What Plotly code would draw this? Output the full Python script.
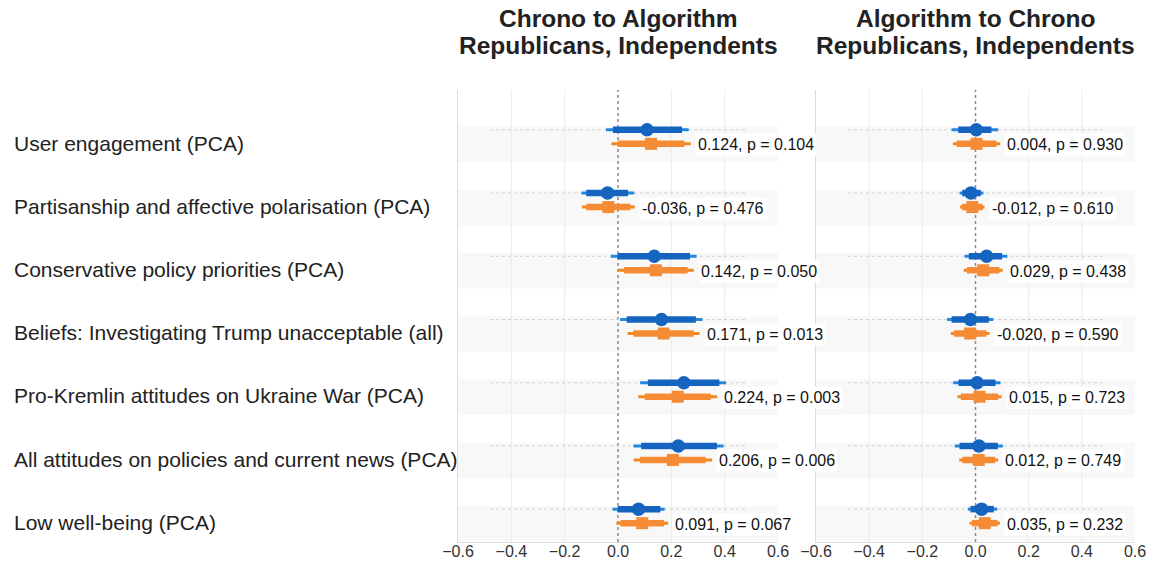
import plotly.graph_objects as go

categories = [
    "User engagement (PCA)",
    "Partisanship and affective polarisation (PCA)",
    "Conservative policy priorities (PCA)",
    "Beliefs: Investigating Trump unacceptable (all)",
    "Pro-Kremlin attitudes on Ukraine War (PCA)",
    "All attitudes on policies and current news (PCA)",
    "Low well-being (PCA)",
]
titles = [["Chrono to Algorithm", "Republicans, Independents"],
          ["Algorithm to Chrono", "Republicans, Independents"]]
tick_vals = [-0.6, -0.4, -0.2, 0.0, 0.2, 0.4, 0.6]
tick_text = ["\u22120.6", "\u22120.4", "\u22120.2", "0.0", "0.2", "0.4", "0.6"]

# Left panel: Chrono to Algorithm
L_blue_est = [0.109, -0.039, 0.136, 0.163, 0.247, 0.226, 0.077]
L_blue_lo95 = [-0.045, -0.137, -0.027, 0.008, 0.083, 0.058, -0.020]
L_blue_hi95 = [0.265, 0.061, 0.295, 0.317, 0.405, 0.396, 0.175]
L_blue_lo90 = [-0.019, -0.119, -0.001, 0.033, 0.112, 0.087, -0.001]
L_blue_hi90 = [0.240, 0.038, 0.270, 0.292, 0.380, 0.371, 0.159]
L_or_est = [0.124, -0.036, 0.142, 0.171, 0.224, 0.206, 0.091]
L_or_lo95 = [-0.025, -0.135, 0.000, 0.036, 0.076, 0.059, -0.006]
L_or_hi95 = [0.273, 0.063, 0.284, 0.306, 0.372, 0.353, 0.188]
L_or_lo90 = [-0.001, -0.119, 0.023, 0.058, 0.100, 0.083, 0.009]
L_or_hi90 = [0.249, 0.047, 0.261, 0.284, 0.348, 0.329, 0.173]
L_p = [0.104, 0.476, 0.050, 0.013, 0.003, 0.006, 0.067]

# Right panel: Algorithm to Chrono
R_blue_est = [0.003, -0.017, 0.042, -0.019, 0.006, 0.013, 0.023]
R_blue_lo95 = [-0.090, -0.060, -0.041, -0.107, -0.084, -0.078, -0.029]
R_blue_hi95 = [0.085, 0.030, 0.120, 0.067, 0.094, 0.103, 0.082]
R_blue_lo90 = [-0.065, -0.050, -0.025, -0.090, -0.064, -0.060, -0.019]
R_blue_hi90 = [0.060, 0.020, 0.100, 0.050, 0.075, 0.084, 0.069]
R_or_est = [0.004, -0.012, 0.029, -0.020, 0.015, 0.012, 0.035]
R_or_lo95 = [-0.085, -0.058, -0.044, -0.093, -0.068, -0.061, -0.022]
R_or_hi95 = [0.093, 0.034, 0.102, 0.053, 0.098, 0.085, 0.092]
R_or_lo90 = [-0.071, -0.051, -0.032, -0.081, -0.055, -0.050, -0.013]
R_or_hi90 = [0.079, 0.027, 0.090, 0.041, 0.085, 0.074, 0.083]
R_p = [0.930, 0.610, 0.438, 0.590, 0.723, 0.749, 0.232]

panels = [
    dict(b=(L_blue_est, L_blue_lo95, L_blue_hi95, L_blue_lo90, L_blue_hi90),
         o=(L_or_est, L_or_lo95, L_or_hi95, L_or_lo90, L_or_hi90), p=L_p),
    dict(b=(R_blue_est, R_blue_lo95, R_blue_hi95, R_blue_lo90, R_blue_hi90),
         o=(R_or_est, R_or_lo95, R_or_hi95, R_or_lo90, R_or_hi90), p=R_p),
]

W, H = 1150, 563
FONT = "Liberation Sans, Arial, Helvetica, sans-serif"
BLUE_THIN, BLUE_THICK = "#1f88e0", "#1565c0"
OR_THIN, OR_THICK = "#f0891c", "#f68b35"
OFF = 0.222  # orange row offset below blue

x_domains = [[458 / W, 778 / W], [816 / W, 1135 / W]]
y_domain = [1 - 542 / H, 1 - 90 / H]
y_range = [-6.52, 0.63]

n = len(categories)
ypos_b = [-i for i in range(n)]
ypos_o = [-i - OFF for i in range(n)]

fig = go.Figure()
shapes = []
annotations = []


def segs(lo, hi, ys):
    xs, yy = [], []
    for a, b, y in zip(lo, hi, ys):
        xs += [a, b, None]
        yy += [y, y, None]
    return xs, yy


for k, pnl in enumerate(panels):
    xa = "x" if k == 0 else "x2"
    ya = "y" if k == 0 else "y2"
    be, bl95, bh95, bl90, bh90 = pnl["b"]
    oe, ol95, oh95, ol90, oh90 = pnl["o"]

    # background bands
    for i in range(n):
        shapes.append(dict(type="rect", xref=f"{xa} domain", yref=ya, x0=0, x1=1,
                           y0=ypos_b[i] + 0.05, y1=ypos_b[i] - 0.51,
                           fillcolor="#f8f8f8", line=dict(width=0), layer="below"))
    # vertical gridlines (except zero)
    for tv in tick_vals:
        if tv != 0 and abs(tv) < 0.6:
            shapes.append(dict(type="line", xref=xa, yref=f"{ya} domain", x0=tv, x1=tv,
                               y0=0, y1=1, line=dict(color="#ebebeb", width=1), layer="below"))
    # dotted reference lines
    for i in range(n):
        shapes.append(dict(type="line", xref=xa, yref=ya, x0=-0.48, x1=0.48,
                           y0=ypos_b[i], y1=ypos_b[i],
                           line=dict(color="#cfcfcf", width=1, dash="dot"), layer="below"))
    # zero line
    shapes.append(dict(type="line", xref=xa, yref=f"{ya} domain", x0=0, x1=0, y0=0, y1=1,
                       line=dict(color="#8a8a8a", width=1.5, dash="dot"), layer="below"))

    xs, yy = segs(bl95, bh95, ypos_b)
    fig.add_trace(go.Scatter(x=xs, y=yy, mode="lines", line=dict(color=BLUE_THIN, width=3),
                             xaxis=xa, yaxis=ya, showlegend=False, hoverinfo="skip"))
    xs, yy = segs(bl90, bh90, ypos_b)
    fig.add_trace(go.Scatter(x=xs, y=yy, mode="lines", line=dict(color=BLUE_THICK, width=6.5),
                             xaxis=xa, yaxis=ya, showlegend=False, hoverinfo="skip"))
    fig.add_trace(go.Scatter(x=be, y=ypos_b, mode="markers",
                             marker=dict(symbol="circle", size=13.5, color=BLUE_THICK),
                             xaxis=xa, yaxis=ya, showlegend=False))
    xs, yy = segs(ol95, oh95, ypos_o)
    fig.add_trace(go.Scatter(x=xs, y=yy, mode="lines", line=dict(color=OR_THIN, width=3),
                             xaxis=xa, yaxis=ya, showlegend=False, hoverinfo="skip"))
    xs, yy = segs(ol90, oh90, ypos_o)
    fig.add_trace(go.Scatter(x=xs, y=yy, mode="lines", line=dict(color=OR_THICK, width=6.5),
                             xaxis=xa, yaxis=ya, showlegend=False, hoverinfo="skip"))
    fig.add_trace(go.Scatter(x=oe, y=ypos_o, mode="markers",
                             marker=dict(symbol="square", size=12, color=OR_THICK),
                             xaxis=xa, yaxis=ya, showlegend=False))

    for i in range(n):
        annotations.append(dict(xref=xa, yref=ya, x=oh95[i], y=ypos_o[i], xanchor="left",
                                yanchor="middle", xshift=4, yshift=-1,
                                text=f"{oe[i]:.3f}, p = {pnl['p'][i]:.3f}", showarrow=False,
                                bgcolor="white", borderpad=2,
                                font=dict(family=FONT, size=16, color="#111")))
    # titles
    cx = (x_domains[k][0] + x_domains[k][1]) / 2
    for j, t in enumerate(titles[k]):
        annotations.append(dict(xref="paper", yref="paper", x=cx, y=1 - (18.25 + 27.5 * j) / H,
                                xanchor="center", yanchor="middle", showarrow=False,
                                text=f"<b>{t}</b>",
                                font=dict(family=FONT, size=24.5, color="#222")))

# category labels
for i, c in enumerate(categories):
    annotations.append(dict(xref="paper", yref="y", x=12 / W, y=ypos_b[i] - 0.21,
                            xanchor="left", yanchor="middle", showarrow=False, text=c,
                            font=dict(family=FONT, size=21, color="#222")))

axis_common = dict(range=[-0.6, 0.6], tickvals=tick_vals, ticktext=tick_text,
                   showgrid=False, zeroline=False, automargin=False,
                   showline=True, linecolor="#dcdcdc", linewidth=1, ticks="",
                   ticklabelstandoff=-5,
                   tickfont=dict(family=FONT, size=16, color="#333"), fixedrange=True)
yaxis_common = dict(range=y_range, domain=y_domain, showgrid=False, zeroline=False,
                    automargin=False,
                    showticklabels=False, showline=True, linecolor="#dcdcdc", linewidth=1,
                    ticks="", fixedrange=True)

fig.update_layout(
    width=W, height=H, autosize=False,
    margin=dict(l=0, r=0, t=0, b=0, autoexpand=False),
    paper_bgcolor="white", plot_bgcolor="white",
    xaxis=dict(domain=x_domains[0], anchor="y", **axis_common),
    xaxis2=dict(domain=x_domains[1], anchor="y2", **axis_common),
    yaxis=dict(anchor="x", **yaxis_common),
    yaxis2=dict(anchor="x2", **yaxis_common),
    shapes=shapes, annotations=annotations,
    font=dict(family=FONT),
)

fig.write_html("out.html")
